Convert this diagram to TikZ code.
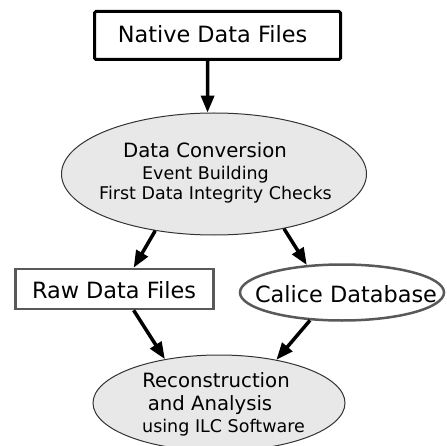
\documentclass[tikz,border=0pt]{standalone}
\usepackage{fontspec}
\setmainfont{DejaVu Sans}
\usetikzlibrary{shapes.geometric,arrows.meta}
\newcommand{\sizebig}{\fontsize{22.4}{27}\selectfont}
\newcommand{\sizemid}{\fontsize{19.7}{22}\selectfont}
\newcommand{\sizesmall}{\fontsize{17.5}{21}\selectfont}
\tikzset{
  filebox/.style={draw=black,line width=3pt,rounded corners=1.5pt,minimum width=246pt,minimum height=48pt,inner sep=0pt},
  rawbox/.style={draw=black!65,line width=2.5pt,minimum width=198pt,minimum height=40pt,inner sep=0pt},
  procell/.style={ellipse,draw=black!80,line width=1pt,fill=black!9,inner sep=0pt},
  dbell/.style={ellipse,draw=black!65,line width=2.5pt,fill=white,inner sep=0pt,minimum width=204pt,minimum height=56pt},
  txt/.style={anchor=base,inner sep=0pt},
  flow/.style={line width=3.5pt,-{Triangle[length=17pt,width=13pt]}},
}
\begin{document}
\begin{tikzpicture}
  \useasboundingbox (0,0) rectangle (446pt,-446pt);
  % boxes and ellipses
  \node[filebox] (native) at (217.5pt,-35.5pt) {};
  \node[txt,font=\sizebig] (nativetext) at (212.5pt,-43pt) {Native Data Files};
  \node[procell,minimum width=305pt,minimum height=122pt] (conv) at (214pt,-174pt) {};
  \node[txt,font=\sizemid] (convtext) at (205pt,-158pt) {Data Conversion};
  \node[txt,font=\sizesmall] (eventtext) at (205.5pt,-180pt) {Event Building};
  \node[txt,font=\sizesmall] (checktext) at (215.5pt,-200pt) {First Data Integrity Checks};
  \node[rawbox] (raw) at (114.5pt,-289pt) {};
  \node[txt,font=\sizebig] (rawtext) at (114pt,-298pt) {Raw Data Files};
  \node[dbell] (db) at (342pt,-292.5pt) {};
  \node[txt,font=\sizebig] (dbtext) at (346pt,-302pt) {Calice Database};
  \node[procell,minimum width=252pt,minimum height=96pt] (reco) at (219pt,-403pt) {};
  \node[txt,font=\sizemid] (recotext) at (216pt,-387pt) {Reconstruction};
  \node[txt,font=\sizemid] (anatext) at (210pt,-410pt) {and Analysis};
  \node[txt,font=\sizesmall] (ilctext) at (223.5pt,-432pt) {using ILC Software};
  % data flow
  \draw[flow] (native.249) -- (conv.96);
  \draw[flow] (conv.224) -- (raw.48.6);
  \draw[flow] (conv.322) -- (db.142);
  \draw[flow] (raw.-48.6) -- (reco.141);
  \draw[flow] (db.221) -- (reco.37);
\end{tikzpicture}
\end{document}
